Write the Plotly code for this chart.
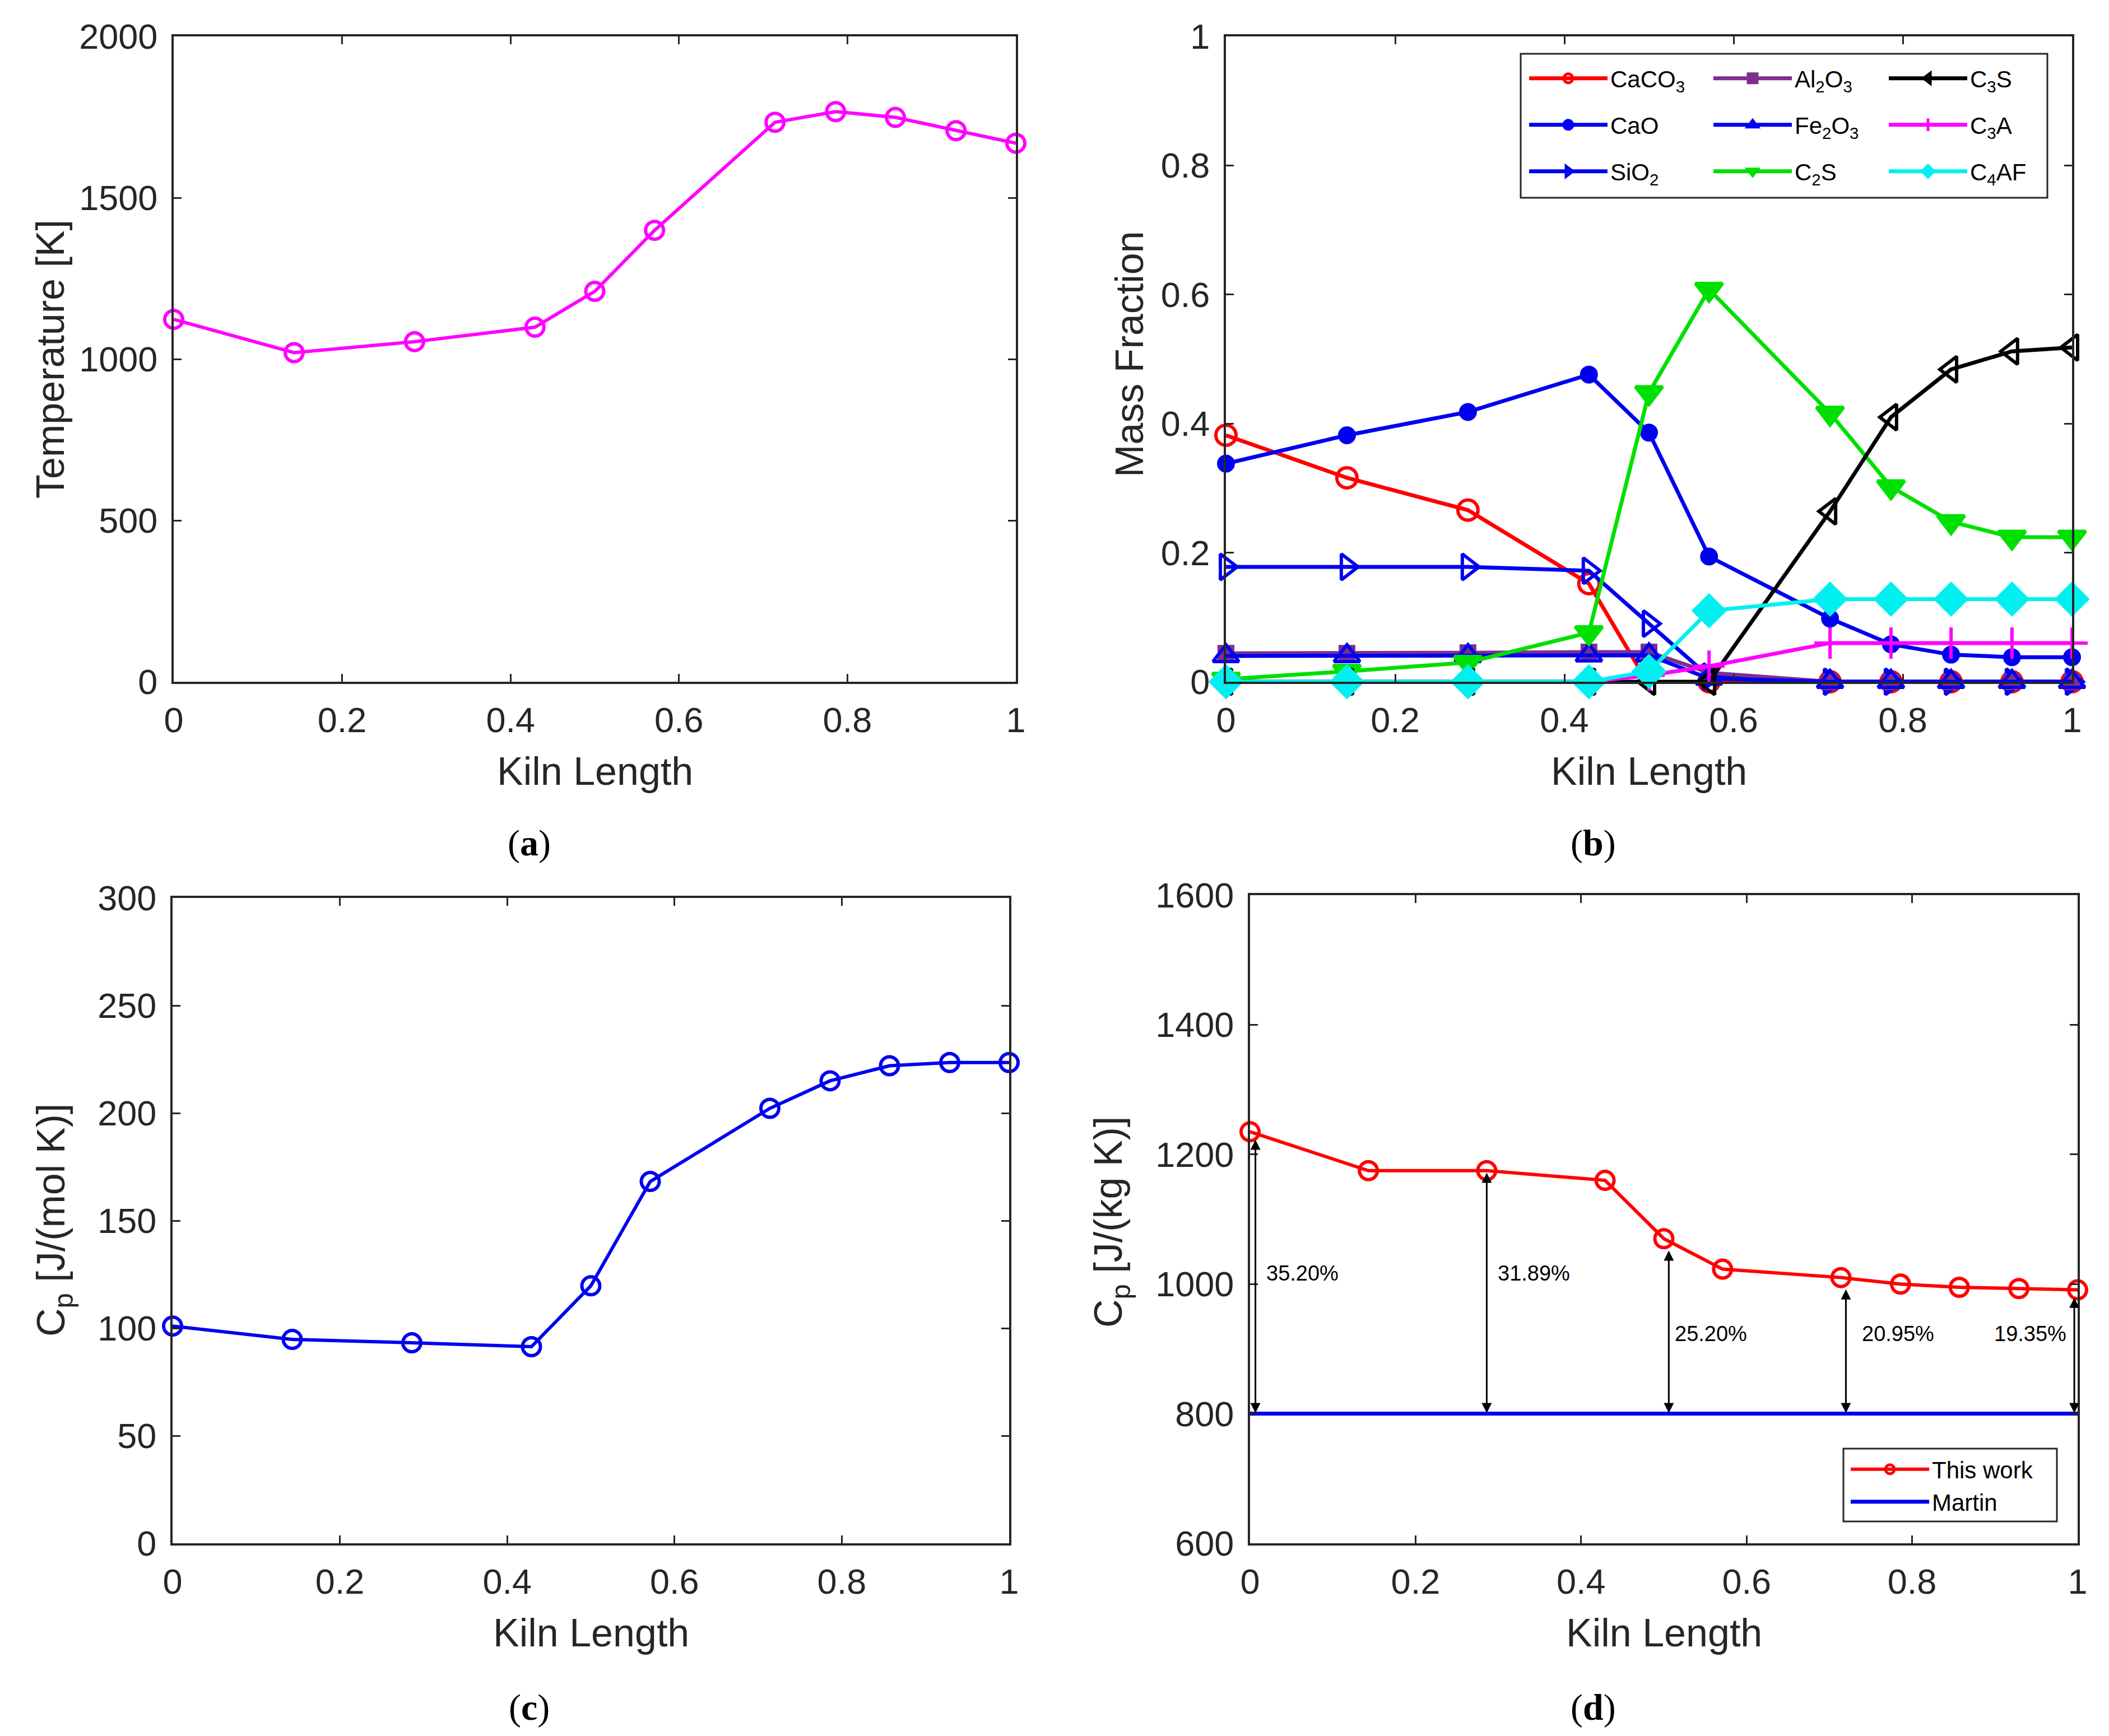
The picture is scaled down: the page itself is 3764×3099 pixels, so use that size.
import plotly.graph_objects as go

W, H = 3764, 3099

# ---------------- data ----------------
kiln = [0, 0.143, 0.286, 0.429, 0.5, 0.571, 0.714, 0.786, 0.857, 0.929, 1.0]

temperature = [1123, 1020, 1054, 1099, 1210, 1399, 1734, 1767, 1749, 1708, 1669]

caco3 = [0.382, 0.316, 0.266, 0.152, -0.005, 0, 0, 0, 0, 0, 0]
cao = [0.338, 0.382, 0.418, 0.476, 0.386, 0.194, 0.098, 0.058, 0.042, 0.038, 0.038]
sio2 = [0.178, 0.178, 0.178, 0.172, 0.090, 0.008, 0, 0, 0, 0, 0]
al2o3 = [0.044, 0.044, 0.045, 0.046, 0.046, 0.014, 0, 0, 0, 0, 0]
fe2o3 = [0.040, 0.040, 0.040, 0.041, 0.041, 0.005, 0, 0, 0, 0, 0]
c2s = [0.004, 0.016, 0.030, 0.076, 0.448, 0.608, 0.416, 0.302, 0.248, 0.224, 0.224]
c3s = [0, 0, 0, 0, 0, 0, 0.264, 0.410, 0.484, 0.512, 0.518]
c3a = [0, 0, 0, 0, 0.010, 0.024, 0.060, 0.060, 0.060, 0.060, 0.060]
c4af = [0, 0, 0, 0, 0.016, 0.110, 0.128, 0.128, 0.128, 0.128, 0.128]

cp_mol = [101, 94.8, 93.2, 91.4, 119.7, 168.2, 202.2, 215, 222, 223.5, 223.5]

cp_this_work = [1235, 1175, 1175, 1160, 1070, 1023, 1010, 1000, 995, 993, 991]
cp_martin = [800, 800, 800, 800, 800, 800, 800, 800, 800, 800, 800]

arrow_x = [0.0065, 0.286, 0.506, 0.720, 0.996]
arrow_top = [1224, 1173, 1053, 993, 980]
arrow_base = 801
pct_labels = ["35.20%", "31.89%", "25.20%", "20.95%", "19.35%"]
pct_x = [0.0185, 0.298, 0.512, 0.738, 0.898]
pct_y = [1017, 1017, 923, 923, 923]

# ---------------- helpers ----------------
def px(x):
    return x / W


def py(y):
    return 1 - y / H


TXT = '#262626'
FONT = 'Liberation Sans'

BLUE = '#0000F0'

fig = go.Figure()

# ---------- panel a ----------
fig.add_trace(go.Scatter(
    x=kiln, y=temperature, mode='lines+markers', xaxis='x', yaxis='y',
    line=dict(color='#FF00FF', width=6),
    marker=dict(symbol='circle-open', size=32, color='#FF00FF', line=dict(width=6, color='#FF00FF')),
    showlegend=False, cliponaxis=False))

# ---------- panel b ----------
series_b = [
    ('CaCO<sub>3</sub>', caco3, '#FF0000', 'circle-open', 36, 'legend'),
    ('CaO', cao, BLUE, 'circle', 26, 'legend2'),
    ('SiO<sub>2</sub>', sio2, BLUE, 'triangle-right-open', 40, 'legend3'),
    ('Al<sub>2</sub>O<sub>3</sub>', al2o3, '#7E2F8E', 'square', 24, 'legend4'),
    ('Fe<sub>2</sub>O<sub>3</sub>', fe2o3, BLUE, 'triangle-up-open', 40, 'legend5'),
    ('C<sub>2</sub>S', c2s, '#00E000', 'triangle-down', 42, 'legend6'),
    ('C<sub>3</sub>S', c3s, '#000000', 'triangle-left-open', 40, 'legend7'),
    ('C<sub>3</sub>A', c3a, '#FF00FF', 'cross-thin', 40, 'legend8'),
    ('C<sub>4</sub>AF', c4af, '#00F0F0', 'diamond', 42, 'legend9'),
]
for name, vals, col, sym, size, leg in series_b:
    fig.add_trace(go.Scatter(
        x=kiln, y=vals, mode='lines+markers', name=name, xaxis='x2', yaxis='y2',
        line=dict(color=col, width=7),
        marker=dict(symbol=sym, size=size, color=col, line=dict(width=6, color=col)),
        legend=leg, cliponaxis=False))

# ---------- panel c ----------
fig.add_trace(go.Scatter(
    x=kiln, y=cp_mol, mode='lines+markers', xaxis='x3', yaxis='y3',
    line=dict(color=BLUE, width=6),
    marker=dict(symbol='circle-open', size=32, color=BLUE, line=dict(width=6, color=BLUE)),
    showlegend=False, cliponaxis=False))

# ---------- panel d ----------
fig.add_trace(go.Scatter(
    x=kiln, y=cp_this_work, mode='lines+markers', name='This work', xaxis='x4', yaxis='y4',
    line=dict(color='#FF0000', width=6),
    marker=dict(symbol='circle-open', size=32, color='#FF0000', line=dict(width=6, color='#FF0000')),
    legend='legend10', cliponaxis=False))
fig.add_trace(go.Scatter(
    x=kiln, y=cp_martin, mode='lines', name='Martin', xaxis='x4', yaxis='y4',
    line=dict(color=BLUE, width=7), legend='legend11', cliponaxis=False))

# ---------------- axes ----------------
def axis(domain, rng, dtick, anchor, standoff):
    return dict(domain=domain, range=rng, dtick=dtick, tick0=rng[0], anchor=anchor,
                showline=True, linecolor=TXT, linewidth=4, mirror='ticks',
                ticks='inside', ticklen=14, tickwidth=3, tickcolor=TXT,
                showgrid=False, zeroline=False, ticklabelstandoff=standoff,
                automargin=False,
                tickfont=dict(family=FONT, size=63, color=TXT))

panels = {
    # name: (x0, x1, ytop, ybottom)
    'a': (302, 1805, 57, 1209),
    'b': (2180, 3690, 57, 1209),
    'c': (300, 1793, 1595, 2747),
    'd': (2223, 3700, 1590, 2747),
}

layout = dict(width=W, height=H, autosize=False,
              margin=dict(l=0, r=0, t=0, b=0, pad=0, autoexpand=False),
              paper_bgcolor='white', plot_bgcolor='white')

specs = [('a', '', [0, 2000], 500), ('b', '2', [0, 1], 0.2),
         ('c', '3', [0, 300], 50), ('d', '4', [600, 1600], 200)]
for key, sfx, yr, ydt in specs:
    x0, x1, yt, yb = panels[key]
    layout['xaxis' + sfx] = axis([px(x0), px(x1)], [0, 1], 0.2, 'y' + sfx, 10)
    layout['yaxis' + sfx] = axis([py(yb), py(yt)], yr, ydt, 'x' + sfx, 12)

# ---------------- legends ----------------
leg_font = dict(family=FONT, size=42, color='#000000')
col_x = [2716, 3045, 3358]
row_y = [132, 215, 298]
legend_names = ['legend', 'legend2', 'legend3', 'legend4', 'legend5',
                'legend6', 'legend7', 'legend8', 'legend9']
for i, ln in enumerate(legend_names):
    c, r = i // 3, i % 3
    layout[ln] = dict(x=px(col_x[c]), y=py(row_y[r]), xanchor='left', yanchor='middle',
                      bgcolor='rgba(0,0,0,0)', borderwidth=0, font=leg_font,
                      itemwidth=140, itemsizing='trace')
for ln, ry in (('legend10', 2615), ('legend11', 2673)):
    layout[ln] = dict(x=px(3290), y=py(ry), xanchor='left', yanchor='middle',
                      bgcolor='rgba(0,0,0,0)', borderwidth=0, font=leg_font,
                      itemwidth=140, itemsizing='trace')

shapes = [
    dict(type='rect', xref='paper', yref='paper', x0=px(2706), x1=px(3646),
         y0=py(345), y1=py(88), line=dict(color=TXT, width=3), fillcolor='white', layer='below'),
    dict(type='rect', xref='paper', yref='paper', x0=px(3282), x1=px(3663),
         y0=py(2708), y1=py(2578), line=dict(color=TXT, width=3), fillcolor='white', layer='below'),
]
layout['shapes'] = shapes

# ---------------- annotations ----------------
ann = []
title_font = dict(family=FONT, size=70, color=TXT)
# x titles
for key in 'abcd':
    x0, x1, yt, yb = panels[key]
    ann.append(dict(text='Kiln Length', xref='paper', yref='paper', x=px((x0 + x1) / 2),
                    y=py(yb + 160), xanchor='center', yanchor='middle', showarrow=False,
                    font=title_font))
# y titles
ytitles = [('Temperature [K]', 82, 633), ('Mass Fraction', 2008, 624),
           ('C<sub>p</sub> [J/(mol K)]', 88, 2170), ('C<sub>p</sub> [J/(kg K)]', 1975, 2173)]
for t, xx, yy in ytitles:
    ann.append(dict(text=t, xref='paper', yref='paper', x=px(xx), y=py(yy), textangle=-90,
                    xanchor='center', yanchor='middle', showarrow=False, font=title_font))
# panel labels
for lab, xx, yy in (('a', 936, 1497), ('b', 2835, 1497), ('c', 936, 3040), ('d', 2835, 3040)):
    ann.append(dict(text='(<b>%s</b>)' % lab, xref='paper', yref='paper', x=px(xx), y=py(yy),
                    xanchor='center', yanchor='middle', showarrow=False,
                    font=dict(family='Liberation Serif', size=66, color='#000000')))
# arrows in d
for xa, top in zip(arrow_x, arrow_top):
    ann.append(dict(x=xa, y=arrow_base, ax=xa, ay=top, xref='x4', yref='y4', axref='x4', ayref='y4',
                    text='', showarrow=True, arrowhead=2, startarrowhead=2, arrowside='end+start',
                    arrowsize=1.2, startarrowsize=1.2, arrowwidth=3, arrowcolor='#000000'))
for t, xx, yy in zip(pct_labels, pct_x, pct_y):
    ann.append(dict(text=t, x=xx, y=yy, xref='x4', yref='y4', xanchor='left', yanchor='middle',
                    showarrow=False, font=dict(family=FONT, size=38, color='#000000')))
layout['annotations'] = ann

fig.update_layout(**layout)
fig.write_html('out.html')
